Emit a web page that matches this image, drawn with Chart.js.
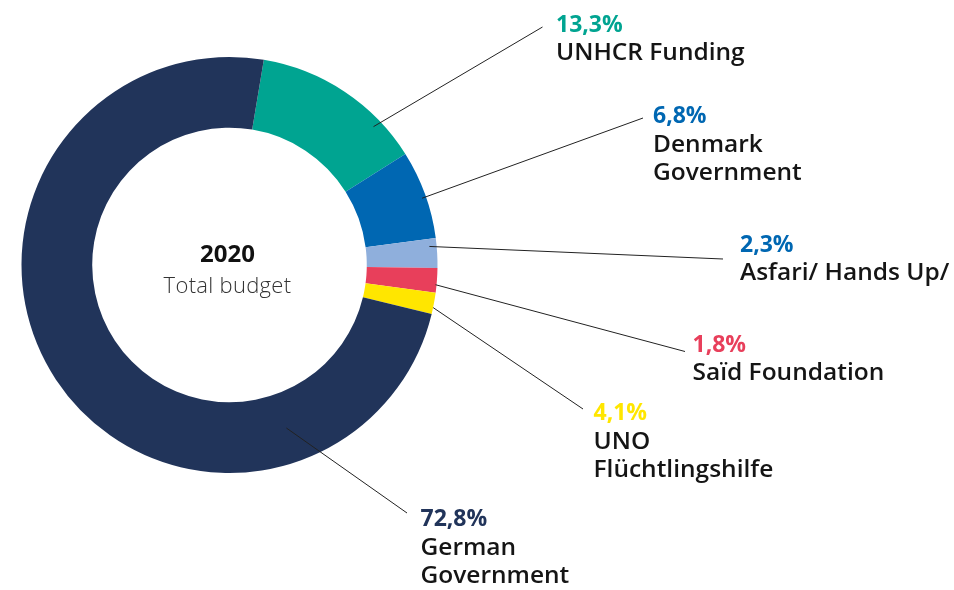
<!DOCTYPE html>
<html>
<head>
<meta charset="utf-8">
<script src="https://cdn.jsdelivr.net/npm/chart.js@4.4.1/dist/chart.umd.min.js"></script>
<style>
  html, body { margin: 0; padding: 0; background: #fff; }
  #wrap { width: 954px; height: 590px; position: relative; }
</style>
</head>
<body>
<div id="wrap"><canvas id="budget"></canvas></div>
<script>
// Budget 2020 - shares as drawn in the ring, plus the printed percent labels
var donors = ['UNHCR Funding', 'Denmark Government', 'Asfari/ Hands Up/', 'Sa\u00EFd Foundation', 'UNO Fl\u00FCchtlingshilfe', 'German Government'];
var nameLines = [['UNHCR Funding'], ['Denmark', 'Government'], ['Asfari/ Hands Up/'], ['Sa\u00EFd Foundation'], ['UNO', 'Fl\u00FCchtlingshilfe'], ['German', 'Government']];
var shares = [13.4, 6.9, 2.3, 1.9, 1.65, 73.9];
var pctLabels = ['13,3%', '6,8%', '2,3%', '1,8%', '4,1%', '72,8%'];
var colors = ['#00a491', '#0067b2', '#8fafdc', '#e83f5b', '#ffe600', '#21345a'];
var pctColors = ['#00a491', '#0067b2', '#0067b2', '#e83f5b', '#ffe600', '#21345a'];

// callout placement: where on the slice the leader starts (t along arc, r of outer radius),
// where it ends, and where the text block starts
var callouts = [
    { t: 0.76, r: 0.96, ex: 542.5, ey: 27, tx: 556, ty: 31.5 },
    { t: 0.53, r: 0.98, ex: 643, ey: 118, tx: 653, ty: 123 },
    { t: 0.26, r: 0.965, ex: 723, ey: 259, tx: 740, ty: 251.5 },
    { t: 0.68, r: 0.995, ex: 685, ey: 351.5, tx: 692.5, ty: 351.5 },
    { t: 0.70, r: 1.0, ex: 583, ey: 409, tx: 593.5, ty: 420 },
    { t: 0.215, r: 0.83, ex: 407, ey: 513, tx: 420.5, ty: 526 }
];

var FONT = '"Open Sans", sans-serif';
var NAME_STRETCH = 1.065; // the print face is wider than Open Sans

var calloutPlugin = {
    id: 'callouts',
    afterDatasetsDraw: function (chart) {
        var ctx = chart.ctx;
        var arcs = chart.getDatasetMeta(0).data;
        ctx.save();
        // centre text
        var c = arcs[0];
        ctx.textAlign = 'center';
        ctx.textBaseline = 'alphabetic';
        ctx.fillStyle = '#111';
        ctx.font = '700 24px ' + FONT;
        ctx.fillText('2020', c.x - 2, 262);
        ctx.fillStyle = '#333';
        ctx.font = '300 22px ' + FONT;
        ctx.letterSpacing = '0.3px';
        ctx.fillText('Total budget', c.x - 2, 293);
        ctx.letterSpacing = '0px';

        arcs.forEach(function (arc, i) {
            var co = callouts[i];
            var p = arc.getProps(['x', 'y', 'startAngle', 'endAngle', 'outerRadius']);
            var a = p.startAngle + (p.endAngle - p.startAngle) * co.t;
            var sx = p.x + Math.cos(a) * p.outerRadius * co.r;
            var sy = p.y + Math.sin(a) * p.outerRadius * co.r;
            ctx.strokeStyle = '#222';
            ctx.lineWidth = 1;
            ctx.beginPath();
            ctx.moveTo(sx, sy);
            ctx.lineTo(co.ex, co.ey);
            ctx.stroke();

            ctx.textAlign = 'left';
            ctx.fillStyle = pctColors[i];
            ctx.font = '700 23px ' + FONT;
            ctx.fillText(pctLabels[i], co.tx, co.ty);

            ctx.fillStyle = '#151515';
            ctx.font = '600 23px ' + FONT;
            nameLines[i].forEach(function (ln, k) {
                ctx.save();
                ctx.translate(co.tx, co.ty + 28.5 * (k + 1));
                ctx.scale(NAME_STRETCH, 1);
                ctx.fillText(ln, 0, 0);
                ctx.restore();
            });
        });
        ctx.restore();
    }
};

new Chart(document.getElementById('budget'), {
    type: 'doughnut',
    data: {
        labels: donors,
        datasets: [{
            data: shares,
            backgroundColor: colors,
            borderWidth: 0
        }]
    },
    options: {
        responsive: true, maintainAspectRatio: false, animation: false,
        rotation: 9.5,
        cutout: '66%',
        layout: { padding: { left: 21.5, right: 516.5, top: 57, bottom: 117 } },
        plugins: { legend: { display: false }, tooltip: { enabled: false } }
    },
    plugins: [calloutPlugin]
});
</script>
</body>
</html>
